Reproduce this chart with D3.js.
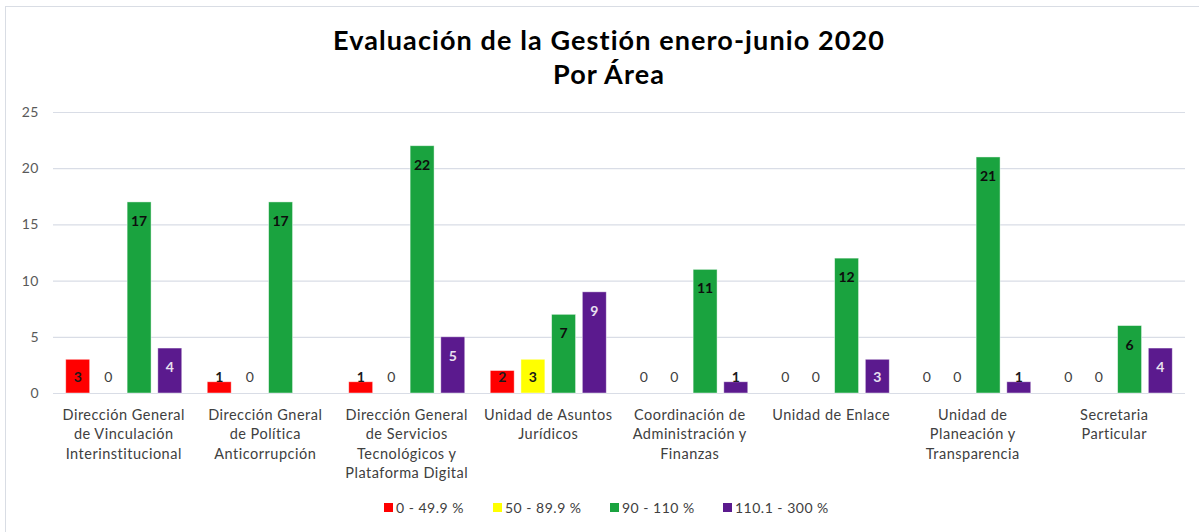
<!DOCTYPE html>
<html>
<head>
<meta charset="utf-8">
<script src="https://cdn.jsdelivr.net/npm/d3@7"></script>
<style>
  html, body { margin: 0; padding: 0; background: #fff; }
  svg { display: block; font-family: Lato, "Open Sans", sans-serif; }
</style>
</head>
<body>
<svg id="chart" width="1199" height="532"></svg>
<script>
// chart data
const categories = [
  ['Dirección General', 'de Vinculación', 'Interinstitucional'],
  ['Dirección Gneral', 'de Política', 'Anticorrupción'],
  ['Dirección General', 'de Servicios', 'Tecnológicos y', 'Plataforma Digital'],
  ['Unidad de Asuntos', 'Jurídicos'],
  ['Coordinación de', 'Administración y', 'Finanzas'],
  ['Unidad de Enlace'],
  ['Unidad de', 'Planeación y', 'Transparencia'],
  ['Secretaria', 'Particular']
];
const seriesNames = ['0 - 49.9 %', '50 - 89.9 %', '90 - 110 %', '110.1 - 300 %'];
const seriesColors = ['#ff0000', '#ffff00', '#1aa33f', '#5b1a8e'];
const labelColors = ['#1a1a1a', '#1a1a1a', '#0d0d0d', '#e8e0f0'];
const rojo = [3, 1, 1, 2, 0, 0, 0, 0];
const amarillo = [0, 0, 0, 3, 0, 0, 0, 0];
const verde = [17, 17, 22, 7, 11, 12, 21, 6];
const morado = [4, null, 5, 9, 1, 3, 1, 4];
const yTicks = [0, 5, 10, 15, 20, 25];

const series = [rojo, amarillo, verde, morado];

const svg = d3.select('#chart');

// outer chart border (only top/left visible in the source)
svg.append('rect')
  .attr('x', 5.5).attr('y', 6.5)
  .attr('width', 1300).attr('height', 700)
  .attr('fill', 'none')
  .attr('stroke', '#d9dde4');

// titles
const titleLines = ['Evaluación de la Gestión enero-junio 2020', 'Por Área'];
svg.append('g')
  .selectAll('text')
  .data(titleLines)
  .join('text')
  .attr('x', 609).attr('y', (d, i) => 50 + i * 34)
  .attr('text-anchor', 'middle')
  .style('font-size', '27px').style('font-weight', 700)
  .style('letter-spacing', '1.1px').style('fill', '#000')
  .text(d => d);

const x0 = d3.scaleBand()
  .domain(d3.range(categories.length))
  .range([53, 1185])
  .paddingInner(0.18)
  .paddingOuter(0.09);

const x1 = d3.scaleBand()
  .domain(d3.range(series.length))
  .range([0, x0.bandwidth()])
  .paddingInner(0.22);

const y = d3.scaleLinear().domain([0, 25]).range([393, 112]);

// gridlines
svg.append('g')
  .selectAll('line')
  .data(yTicks)
  .join('line')
  .attr('x1', 53).attr('x2', 1185)
  .attr('y1', d => y(d) + 0.5).attr('y2', d => y(d) + 0.5)
  .attr('stroke', '#d9dde6')
  .attr('stroke-width', 1.2);

// y axis labels
const yAxis = svg.append('g')
  .attr('transform', 'translate(39,0)')
  .call(d3.axisLeft(y).tickValues(yTicks).tickSize(0).tickPadding(0));
yAxis.select('.domain').remove();
yAxis.selectAll('text')
  .style('font-family', 'Lato, sans-serif')
  .style('font-size', '14px')
  .style('letter-spacing', '0.5px')
  .style('fill', '#595959');

// bars
const groups = svg.append('g')
  .selectAll('g')
  .data(categories.map((c, i) => i))
  .join('g')
  .attr('transform', i => `translate(${x0(i)},0)`);

const cells = groups.selectAll('g.cell')
  .data(i => series.map((s, k) => ({ k, v: s[i] })))
  .join('g')
  .attr('class', 'cell');

cells.filter(d => d.v > 0)
  .append('rect')
  .attr('x', d => x1(d.k))
  .attr('width', x1.bandwidth())
  .attr('y', d => y(d.v))
  .attr('height', d => y(0) - y(d.v))
  .attr('fill', d => seriesColors[d.k])
  .attr('stroke', 'rgba(255,255,255,0.55)')
  .attr('stroke-width', 0.8);

// data labels (inside end, pushed up to stay readable on short bars)
cells.filter(d => d.v !== null)
  .append('text')
  .attr('x', d => x1(d.k) + x1.bandwidth() / 2)
  .attr('y', d => Math.min(y(d.v) + 19, 377) + 5)
  .attr('text-anchor', 'middle')
  .style('font-size', '14px')
  .style('font-weight', d => d.v > 0 ? 700 : 400)
  .style('fill', d => {
    if (d.v === 0) return '#404040';
    // labels that overflow a short bar sit on white, so keep them dark
    return (y(0) - y(d.v)) < 20 ? '#1a1a1a' : labelColors[d.k];
  })
  .text(d => d.v);

// category labels
const xl = svg.append('g')
  .selectAll('text')
  .data(categories.map((c, i) => ({ c, i })))
  .join('text')
  .attr('x', d => x0(d.i) + x0.bandwidth() / 2)
  .attr('y', 420)
  .attr('text-anchor', 'middle')
  .style('font-size', '14.5px')
  .style('letter-spacing', '0.5px')
  .style('fill', '#404040');
xl.selectAll('tspan')
  .data(d => d.c)
  .join('tspan')
  .attr('x', function () { return d3.select(this.parentNode).attr('x'); })
  .attr('dy', (d, j) => j === 0 ? 0 : 19.3)
  .text(d => d);

// legend
const legendX = [384, 493, 610, 723];
const legend = svg.append('g')
  .selectAll('g')
  .data(seriesNames.map((n, k) => ({ n, k })))
  .join('g')
  .attr('transform', d => `translate(${legendX[d.k]},503)`);
legend.append('rect')
  .attr('width', 9).attr('height', 9)
  .attr('fill', d => seriesColors[d.k]);
legend.append('text')
  .attr('x', 12).attr('y', 9.5)
  .style('font-size', '14px')
  .style('letter-spacing', '0.5px')
  .style('fill', '#404040')
  .text(d => d.n);
</script>
</body>
</html>
